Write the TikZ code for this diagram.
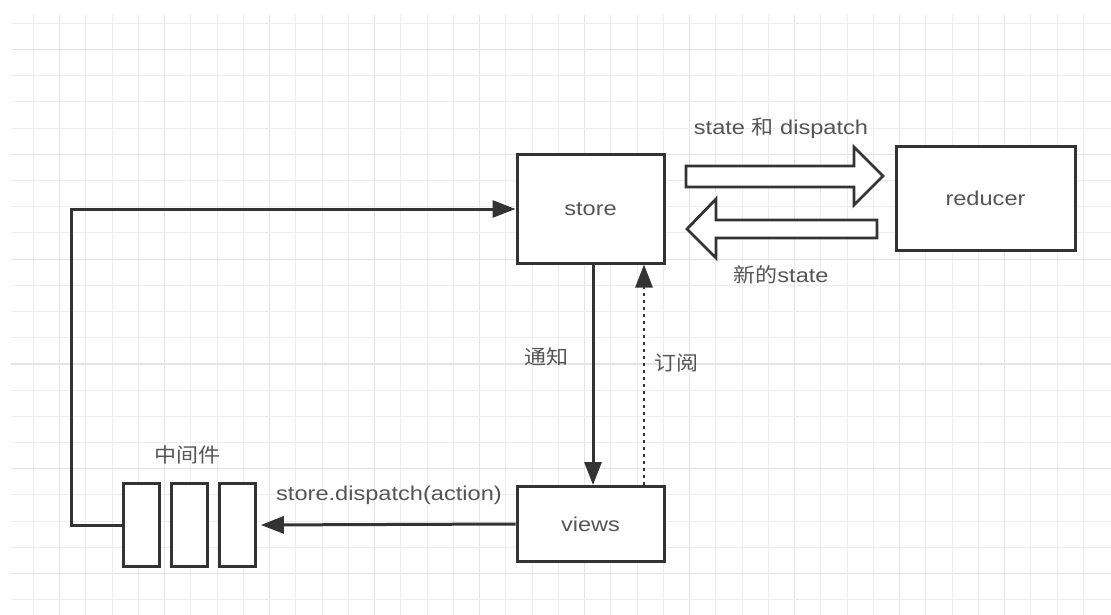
\documentclass[tikz,border=0pt]{standalone}
\usepackage{fontspec}
\setmainfont{Liberation Sans}[FakeStretch=1.18]
\newfontfamily\cjk{Noto Sans CJK SC}[FakeStretch=1.1]
\usetikzlibrary{arrows.meta}
\definecolor{ink}{HTML}{333333}
\definecolor{txt}{HTML}{555555}
\definecolor{gridminor}{HTML}{EDEDED}
\definecolor{gridmajor}{HTML}{E4E4E4}
\begin{document}
\begin{tikzpicture}[x=1pt,y=-1pt,
  font=\fontsize{20}{24}\selectfont,
  box/.style={draw=ink, line width=3pt, fill=white, inner sep=0pt, text=txt},
  lbl/.style={text=txt, inner sep=1pt},
  conn/.style={draw=ink, line width=3pt, -{Triangle[length=23pt,width=17pt]}},
  subs/.style={draw=ink, line width=2.8pt, dash pattern=on 3pt off 4pt, -{Triangle[length=23pt,width=17pt]}},
  blk/.style={draw=ink, line width=2.8pt, fill=white, line join=miter}]
\useasboundingbox (0,0) rectangle (1111,615);
\fill[white] (0,0) rectangle (1111,615);
% grid
\foreach \k in {0,...,40} {
  \pgfmathsetmacro\xx{33.3+26.25*\k}
  \pgfmathtruncatemacro\mm{mod(\k,4)}
  \ifnum\mm=1 \draw[gridmajor, line width=1.2pt] (\xx,15) -- (\xx,615);
  \else \draw[gridminor, line width=1pt] (\xx,15) -- (\xx,615); \fi
}
\foreach \k in {0,...,22} {
  \pgfmathsetmacro\yy{23.3+26.2*\k}
  \pgfmathtruncatemacro\mm{mod(\k,4)}
  \ifnum\mm=1 \draw[gridmajor, line width=1.2pt] (11,\yy) -- (1111,\yy);
  \else \draw[gridminor, line width=1pt] (11,\yy) -- (1111,\yy); \fi
}
% nodes
\node[box, minimum width=147pt, minimum height=108pt] (store) at (590.5,209) {store};
\node[box, minimum width=179pt, minimum height=104pt] (reducer) at (985.5,198.5) {reducer};
\node[box, minimum width=147pt, minimum height=75pt] (views) at (590.5,524) {views};
\node[box, minimum width=36pt, minimum height=83pt] (m1) at (141.5,525) {};
\node[box, minimum width=36pt, minimum height=83pt] (m2) at (189.3,525) {};
\node[box, minimum width=36pt, minimum height=83pt] (m3) at (237.3,525) {};
% labels
\node[lbl] (lmid) at (187,455) {\cjk 中间件};
\node[lbl] (ldisp) at (389,495) {store.dispatch(action)};
\node[lbl] (lsd) at (781,128) {state {\cjk 和} dispatch};
\node[lbl] (lnew) at (781,275) {{\cjk 新的}state};
\node[lbl] (lnote) at (546.5,357) {\cjk 通知};
\node[lbl] (lsub) at (676,363) {\cjk 订阅};
% block arrows
\draw[blk] (686,166) -- (854,166) -- (854,147) -- (883,176) -- (854,205) -- (854,187) -- (686,187) -- cycle;
\draw[blk] (877,220) -- (716,220) -- (716,199) -- (687,229) -- (716,258) -- (716,238) -- (877,238) -- cycle;
% connectors
\draw[conn, shorten >=4pt] (views.west) -- (m3.east);
\coordinate (c1) at (71,525);
\draw[conn] (m1.west) -- (c1) |- (store.west);
\draw[conn] ([xshift=2.5pt]store.south) -- ([xshift=2.5pt]views.north);
\draw[subs] ([xshift=53.5pt]views.north) -- ([xshift=53.5pt]store.south);
\end{tikzpicture}
\end{document}
